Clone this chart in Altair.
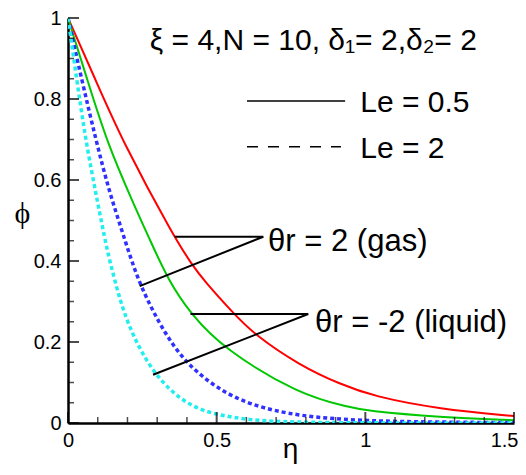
import altair as alt
import pandas as pd

# ---- curve data ----
eta_red = [0.0, 0.094, 0.185, 0.356, 0.418, 0.456, 0.556, 0.629, 0.78, 0.915, 1.026, 1.25, 1.5]
phi_red = [1.0, 0.845, 0.693, 0.46, 0.39, 0.353, 0.271, 0.217, 0.142, 0.096, 0.066, 0.034, 0.017]

eta_green = [0.0, 0.066, 0.131, 0.221, 0.277, 0.337, 0.413, 0.522, 0.78, 0.948, 1.0, 1.25, 1.5]
phi_green = [1.0, 0.845, 0.693, 0.54, 0.45, 0.353, 0.269, 0.184, 0.069, 0.039, 0.030, 0.014, 0.007]

eta_blue = [0.0, 0.047, 0.094, 0.137, 0.188, 0.241, 0.331, 0.404, 0.5, 0.612, 0.78, 1.0, 1.25, 1.5]
phi_blue = [1.0, 0.845, 0.699, 0.575, 0.46, 0.338, 0.213, 0.143, 0.086, 0.044, 0.016, 0.005, 0.002, 0.001]

eta_cyan = [0.0, 0.030, 0.060, 0.098, 0.131, 0.157, 0.197, 0.286, 0.399, 0.5, 0.612, 0.75, 1.0, 1.5]
phi_cyan = [1.0, 0.845, 0.695, 0.551, 0.427, 0.353, 0.246, 0.119, 0.044, 0.020, 0.007, 0.002, 0.0, 0.0]

solid_names = ["red", "green"]
solid_colors = ["#ff0000", "#00c800"]
dotted_names = ["blue", "cyan"]
dotted_colors = ["#3030ff", "#22eeee"]

# ---- annotation pointers ----
gas_eta = [0.359, 0.657, 0.241]
gas_phi = [0.460, 0.460, 0.338]
liq_eta = [0.412, 0.808, 0.286]
liq_phi = [0.269, 0.269, 0.119]

# ---- legend sample lines ----
solid_eta = [0.602, 0.932]
solid_phi = [0.795, 0.795]
dash_eta = [0.602, 0.918]
dash_phi = [0.682, 0.682]

# ---- texts ----
title_text = "ξ = 4,N = 10, δ₁= 2,δ₂= 2"
title_pos = (0.275, 0.921)
le_texts = ["Le = 0.5", "Le = 2"]
le_eta = [0.983, 0.983]
le_phi = [0.768, 0.654]
th_texts = ["θr = 2 (gas)", "θr = -2 (liquid)"]
th_eta = [0.673, 0.831]
th_phi = [0.425, 0.225]

# ---- ticks ----
x_major = [0, 0.5, 1.0, 1.5]
x_minor = [0.1, 0.2, 0.3, 0.4, 0.6, 0.7, 0.8, 0.9, 1.1, 1.2, 1.3, 1.4]
y_major = [0, 0.2, 0.4, 0.6, 0.8, 1.0]
y_minor = [0.05, 0.1, 0.15, 0.25, 0.3, 0.35, 0.45, 0.5, 0.55, 0.65, 0.7, 0.75, 0.85, 0.9, 0.95]

FONT = "Liberation Sans"


def make_df(names, etas, phis):
    rows = []
    for name, es, ps in zip(names, etas, phis):
        for i, (e, p) in enumerate(zip(es, ps)):
            rows.append({"series": name, "eta": e, "phi": p, "o": i})
    return pd.DataFrame(rows)


solid_df = make_df(solid_names, [eta_red, eta_green], [phi_red, phi_green])
dotted_df = make_df(dotted_names, [eta_blue, eta_cyan], [phi_blue, phi_cyan])

xs = alt.Scale(domain=[0, 1.5], nice=False, zero=False)
ys = alt.Scale(domain=[0, 1], nice=False, zero=False)

xaxis = alt.Axis(values=x_major, format="~g", title="η", ticks=False, grid=False,
                 labelFlush=False, labelPadding=7, labelFontSize=20, labelFont=FONT,
                 labelAlign={"condition": {"test": "datum.value >= 1.5", "value": "right"}, "value": "center"},
                 labelOffset={"condition": {"test": "datum.value >= 1.5", "value": 4}, "value": 0},
                 labelColor="black", domainColor="black", domainWidth=2.5,
                 titleFont=FONT, titleFontSize=28, titleFontWeight="normal",
                 titleX=222, titleY=34, titleBaseline="alphabetic", titleColor="black")
yaxis = alt.Axis(values=y_major, format="~g", title="ϕ", ticks=False, grid=False,
                 labelFlush=False, labelPadding=7, labelFontSize=20, labelFont=FONT,
                 labelColor="black", domainColor="black", domainWidth=2.5,
                 titleFont="Liberation Serif, DejaVu Serif", titleFontSize=30, titleFontWeight="normal",
                 titleAngle=0, titleX=-46, titleY=195, titleAlign="center",
                 titleBaseline="middle", titleColor="black")

solid_curves = alt.Chart(solid_df).mark_line(interpolate="basis", clip=True, strokeWidth=2).encode(
    x=alt.X("eta:Q", scale=xs, axis=xaxis),
    y=alt.Y("phi:Q", scale=ys, axis=yaxis),
    color=alt.Color("series:N", scale=alt.Scale(domain=solid_names, range=solid_colors), legend=None),
    order="o:Q",
)
dotted_curves = alt.Chart(dotted_df).mark_line(interpolate="basis", clip=True, strokeWidth=3.5,
                                               strokeDash=[4, 3]).encode(
    x=alt.X("eta:Q", scale=xs),
    y=alt.Y("phi:Q", scale=ys),
    stroke=alt.Stroke("series:N", scale=alt.Scale(domain=dotted_names, range=dotted_colors), legend=None),
    order="o:Q",
)

ptr_rows = []
for name, es, ps in [("gas", gas_eta, gas_phi), ("liq", liq_eta, liq_phi)]:
    for i, (e, p) in enumerate(zip(es, ps)):
        ptr_rows.append({"g": name, "eta": e, "phi": p, "o": i})
pointers = alt.Chart(pd.DataFrame(ptr_rows)).mark_line(color="black", strokeWidth=2).encode(
    x=alt.X("eta:Q", scale=xs), y=alt.Y("phi:Q", scale=ys), detail="g:N", order="o:Q")

solid_leg = alt.Chart(pd.DataFrame({"eta": solid_eta, "phi": solid_phi})).mark_line(
    color="black", strokeWidth=1.5).encode(x=alt.X("eta:Q", scale=xs), y=alt.Y("phi:Q", scale=ys))
dash_leg = alt.Chart(pd.DataFrame({"eta": dash_eta, "phi": dash_phi})).mark_line(
    color="black", strokeWidth=1.5, strokeDash=[11, 10]).encode(
    x=alt.X("eta:Q", scale=xs), y=alt.Y("phi:Q", scale=ys))

title_mark = alt.Chart(pd.DataFrame({"eta": [title_pos[0]], "phi": [title_pos[1]], "t": [title_text]})).mark_text(
    align="left", baseline="alphabetic", font=FONT, fontSize=30, color="black").encode(
    x=alt.X("eta:Q", scale=xs), y=alt.Y("phi:Q", scale=ys), text="t:N")
le_mark = alt.Chart(pd.DataFrame({"eta": le_eta, "phi": le_phi, "t": le_texts})).mark_text(
    align="left", baseline="alphabetic", font=FONT, fontSize=30, color="black").encode(
    x=alt.X("eta:Q", scale=xs), y=alt.Y("phi:Q", scale=ys), text="t:N")
th_mark = alt.Chart(pd.DataFrame({"eta": th_eta, "phi": th_phi, "t": th_texts})).mark_text(
    align="left", baseline="alphabetic", font=FONT, fontSize=31, color="black").encode(
    x=alt.X("eta:Q", scale=xs), y=alt.Y("phi:Q", scale=ys), text="t:N")

xmaj = alt.Chart(pd.DataFrame({"v": x_major})).mark_tick(
    orient="vertical", size=11, thickness=2, yOffset=-5.5, color="black").encode(
    x=alt.X("v:Q", scale=xs), y=alt.datum(0, scale=ys))
xmin = alt.Chart(pd.DataFrame({"v": x_minor})).mark_tick(
    orient="vertical", size=6, thickness=1.5, yOffset=-3, color="black").encode(
    x=alt.X("v:Q", scale=xs), y=alt.datum(0, scale=ys))
ymaj = alt.Chart(pd.DataFrame({"v": y_major})).mark_tick(
    orient="horizontal", size=11, thickness=2, xOffset=5.5, color="black").encode(
    y=alt.Y("v:Q", scale=ys), x=alt.datum(0, scale=xs))
ymin = alt.Chart(pd.DataFrame({"v": y_minor})).mark_tick(
    orient="horizontal", size=6, thickness=1.5, xOffset=3, color="black").encode(
    y=alt.Y("v:Q", scale=ys), x=alt.datum(0, scale=xs))

chart = alt.layer(solid_curves, dotted_curves, pointers, solid_leg, dash_leg, title_mark, le_mark, th_mark,
                  xmaj, xmin, ymaj, ymin).properties(
    width=446, height=405,
    padding={"left": 60, "top": 10, "right": 4, "bottom": 44},
    autosize=alt.AutoSizeParams(type="none"),
    background="white",
).resolve_scale(color="independent").configure_view(stroke=None)

chart.save("out.html", embed_options={"renderer": "svg", "actions": False})
